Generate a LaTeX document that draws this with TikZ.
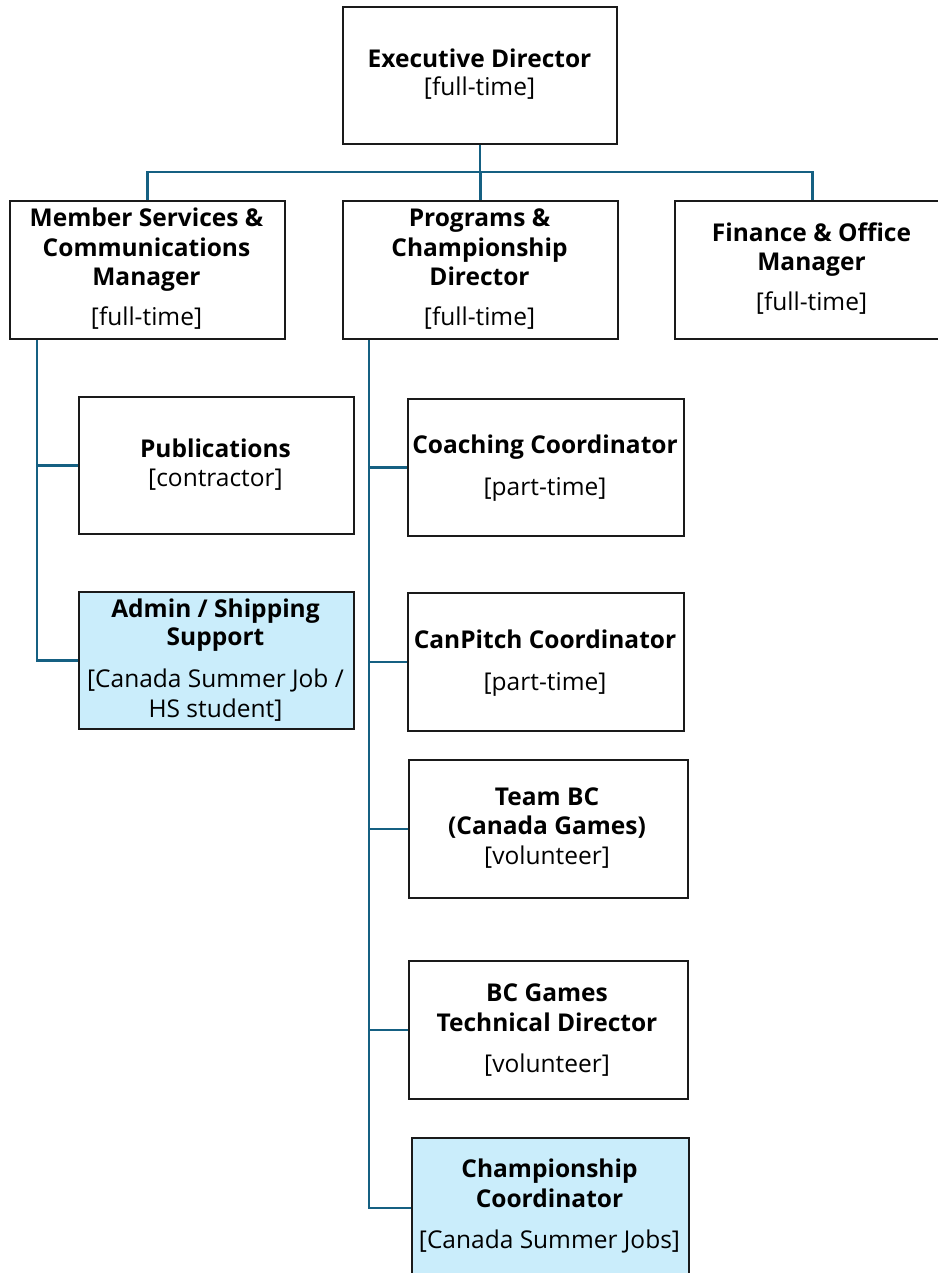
\documentclass[tikz,border=0pt]{standalone}
\usepackage{fontspec}
\setmainfont{Open Sans}
\definecolor{connblue}{HTML}{156082}
\definecolor{hlblue}{HTML}{CAEDFB}
\definecolor{edge}{HTML}{1A1A1A}
\begin{document}
\begin{tikzpicture}[x=1pt,y=-1pt,
  box/.style={draw=edge, line width=2.4pt, fill=white, inner sep=0pt, anchor=north west},
  hl/.style={box, fill=hlblue},
  conn/.style={draw=connblue, line width=2.5pt},
  tb/.style={anchor=base, inner sep=0pt, font=\fontsize{24.5}{29}\selectfont\bfseries},
  tr/.style={anchor=base, inner sep=0pt, font=\fontsize{24.5}{29}\selectfont},
]
\useasboundingbox (0,0) rectangle (937,1273);
% boxes
\node[box, minimum width=274pt, minimum height=137pt] (exec) at (342,6) {};
\node[box, minimum width=275pt, minimum height=138pt] (msc) at (9,200) {};
\node[box, minimum width=275pt, minimum height=138pt] (pcd) at (342,200) {};
\node[box, minimum width=275pt, minimum height=138pt] (fom) at (674,200) {};
\node[box, minimum width=275pt, minimum height=137pt] (pub) at (78,396) {};
\node[hl, minimum width=275pt, minimum height=137pt] (adm) at (78,591) {};
\node[box, minimum width=276pt, minimum height=137pt] (coach) at (407,398) {};
\node[box, minimum width=276pt, minimum height=138pt] (canp) at (407,592) {};
\node[box, minimum width=279pt, minimum height=138pt] (team) at (408,759) {};
\node[box, minimum width=279pt, minimum height=138pt] (bcg) at (408,960) {};
\node[hl, minimum width=277pt, minimum height=140pt] (champ) at (411,1137) {};
% connectors
\coordinate (bar) at (479,172);
\coordinate (mtrunk) at (37,338);
\coordinate (ptrunk) at (369,338);
\draw[conn] (exec.south) -- (exec.south |- bar);
\draw[conn] (msc.north) -- (msc.north |- bar) -- (fom.north |- bar) -- (fom.north);
\draw[conn] (pcd.north) -- (pcd.north |- bar);
\draw[conn] (msc.south -| mtrunk) |- (adm.west);
\draw[conn] (pub.west) -- (pub.west -| mtrunk);
\draw[conn] (pcd.south -| ptrunk) |- (champ.west);
\draw[conn] (coach.west) -- (coach.west -| ptrunk);
\draw[conn] (canp.west) -- (canp.west -| ptrunk);
\draw[conn] (team.west) -- (team.west -| ptrunk);
\draw[conn] (bcg.west) -- (bcg.west -| ptrunk);
% texts
\node[tb] (exec1) at (479.5,68) {Executive Director};
\node[tr] (exec2) at (479.5,96) {[full-time]};
\node[tb] (msc1) at (146.5,227) {Member Services \&};
\node[tb] (msc2) at (146.5,256) {Communications};
\node[tb] (msc3) at (146.5,285) {Manager};
\node[tr] (msc4) at (146.5,325) {[full-time]};
\node[tb] (pcd1) at (479.5,227) {Programs \&};
\node[tb] (pcd2) at (479.5,256) {Championship};
\node[tb] (pcd3) at (479.5,285) {Director};
\node[tr] (pcd4) at (479.5,325) {[full-time]};
\node[tb] (fom1) at (811.5,241) {Finance \& Office};
\node[tb] (fom2) at (811.5,270) {Manager};
\node[tr] (fom3) at (811.5,310) {[full-time]};
\node[tb] (pub1) at (215.5,457) {Publications};
\node[tr] (pub2) at (215.5,486) {[contractor]};
\node[tb] (adm1) at (215.5,617) {Admin / Shipping};
\node[tb] (adm2) at (215.5,645) {Support};
\node[tr] (adm3) at (215.5,687) {[Canada Summer Job /};
\node[tr] (adm4) at (215.5,717) {HS student]};
\node[tb] (coach1) at (545,453) {Coaching Coordinator};
\node[tr] (coach2) at (545,495) {[part-time]};
\node[tb] (canp1) at (545,648) {CanPitch Coordinator};
\node[tr] (canp2) at (545,690) {[part-time]};
\node[tb] (team1) at (547,805) {Team BC};
\node[tb] (team2) at (547,834.5) {(Canada Games)};
\node[tr] (team3) at (547,864) {[volunteer]};
\node[tb] (bcg1) at (547,1001) {BC Games};
\node[tb] (bcg2) at (547,1031) {Technical Director};
\node[tr] (bcg3) at (547,1072) {[volunteer]};
\node[tb] (champ1) at (549.5,1177) {Championship};
\node[tb] (champ2) at (549.5,1207) {Coordinator};
\node[tr] (champ3) at (549.5,1248) {[Canada Summer Jobs]};
\end{tikzpicture}
\end{document}
